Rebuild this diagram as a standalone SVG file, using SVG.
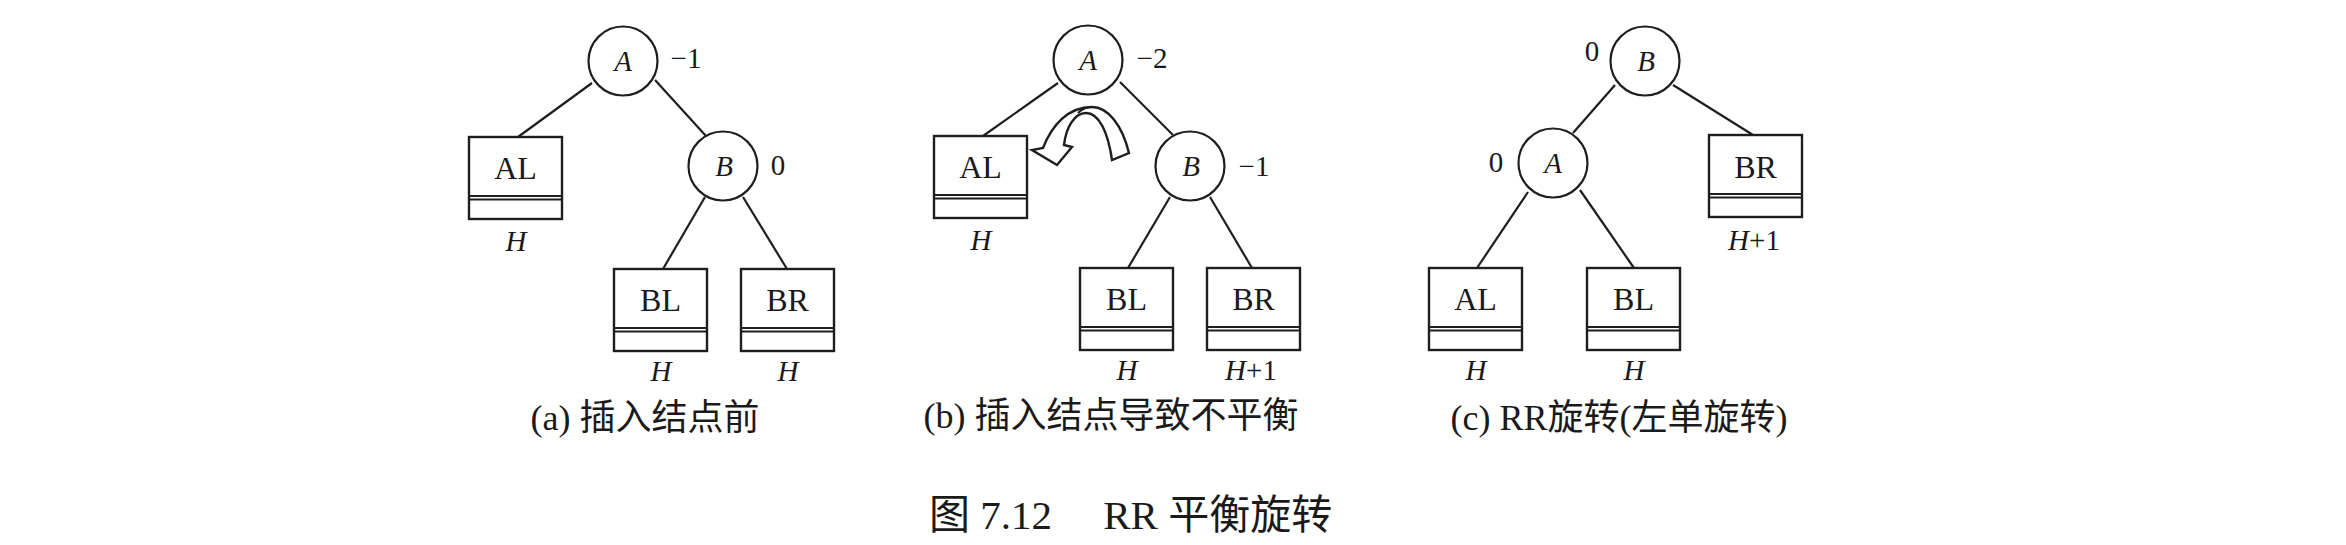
<svg xmlns="http://www.w3.org/2000/svg" width="2346" height="545" viewBox="0 0 2346 545">
<style>
  .edge { stroke: #1e1e1e; stroke-width: 2.2; fill: none; }
  .circ { stroke: #1e1e1e; stroke-width: 2.2; fill: #fff; }
  .box { stroke: #1e1e1e; stroke-width: 2.4; fill: #fff; }
  .div { stroke: #1e1e1e; stroke-width: 1.8; }
  .t { font-family: "Liberation Serif", "Noto Sans CJK SC", serif; fill: #1a1a1a; }
  .lbl { font-size: 29px; text-anchor: middle; }
  .bl { font-size: 32px; text-anchor: middle; }
  .it { font-style: italic; }
  .cap { font-size: 36px; text-anchor: middle; }
  .title { font-size: 41px; }
</style>
<defs>
  <g id="box">
    <rect class="box" x="0" y="0" width="93" height="82"/>
    <line class="div" x1="0" y1="59" x2="93" y2="59"/>
    <line class="div" x1="0" y1="62.5" x2="93" y2="62.5"/>
  </g>
</defs>
<rect width="2346" height="545" fill="#fff"/>

<g id="connectors">
  <!-- panel a -->
  <line class="edge" x1="592" y1="83" x2="518" y2="137"/>
  <line class="edge" x1="655" y1="80" x2="706" y2="136"/>
  <line class="edge" x1="705" y1="197" x2="663" y2="269"/>
  <line class="edge" x1="743" y1="197" x2="787" y2="269"/>
  <!-- panel b -->
  <line class="edge" x1="1058" y1="83" x2="983" y2="136"/>
  <line class="edge" x1="1120" y1="82" x2="1173" y2="135"/>
  <line class="edge" x1="1170" y1="197" x2="1128" y2="268"/>
  <line class="edge" x1="1210" y1="197" x2="1252" y2="268"/>
  <!-- panel c -->
  <line class="edge" x1="1615" y1="85" x2="1573" y2="133"/>
  <line class="edge" x1="1673" y1="85" x2="1753" y2="135"/>
  <line class="edge" x1="1528" y1="192" x2="1477" y2="268"/>
  <line class="edge" x1="1580" y1="190" x2="1634" y2="268"/>
</g>

<!-- Panel (a) -->
<g id="a-A">
  <circle class="circ" cx="623" cy="61" r="34.5"/>
  <text class="t lbl it" x="623" y="71">A</text>
  <text class="t lbl" x="686" y="68">−1</text>
</g>
<g id="a-B">
  <circle class="circ" cx="723" cy="166" r="34.5"/>
  <text class="t lbl it" x="724" y="176">B</text>
  <text class="t lbl" x="778" y="175">0</text>
</g>
<g id="a-AL">
  <use href="#box" x="469" y="137"/>
  <text class="t bl" x="515.5" y="179">AL</text>
  <text class="t lbl it" x="516" y="251">H</text>
</g>
<g id="a-BL">
  <use href="#box" x="614" y="269"/>
  <text class="t bl" x="660.5" y="311">BL</text>
  <text class="t lbl it" x="661" y="381">H</text>
</g>
<g id="a-BR">
  <use href="#box" x="741" y="269"/>
  <text class="t bl" x="787.5" y="311">BR</text>
  <text class="t lbl it" x="788" y="381">H</text>
</g>
<text class="t cap" x="645" y="430">(a) 插入结点前</text>

<!-- Panel (b) -->
<g id="b-A">
  <circle class="circ" cx="1088" cy="60" r="34.5"/>
  <text class="t lbl it" x="1088" y="70">A</text>
  <text class="t lbl" x="1152" y="68">−2</text>
</g>
<g id="b-B">
  <circle class="circ" cx="1190" cy="166" r="34.5"/>
  <text class="t lbl it" x="1191" y="176">B</text>
  <text class="t lbl" x="1254" y="176">−1</text>
</g>
<g id="b-AL">
  <use href="#box" x="934" y="136"/>
  <text class="t bl" x="980.5" y="178">AL</text>
  <text class="t lbl it" x="981" y="250">H</text>
</g>
<g id="b-BL">
  <use href="#box" x="1080" y="268"/>
  <text class="t bl" x="1126.5" y="310">BL</text>
  <text class="t lbl it" x="1127" y="380">H</text>
</g>
<g id="b-BR">
  <use href="#box" x="1207" y="268"/>
  <text class="t bl" x="1253.5" y="310">BR</text>
  <text class="t lbl" x="1251" y="380"><tspan class="it">H</tspan>+1</text>
</g>
<g id="b-rotate-arrow">
  <path d="M1129,153 C1122,125 1108,107 1092,107 C1068,107 1052,125 1043,148 L1032,150 L1057,165 L1072,147 L1064,145 C1066,128 1074,113 1086,113 C1099,113 1108,132 1112,160 Z" fill="#fff" stroke="#1e1e1e" stroke-width="2.4" stroke-linejoin="miter"/>
  <path d="M1078,113 C1083,108 1088,107 1092,107" fill="none" stroke="#1e1e1e" stroke-width="2"/>
</g>
<text class="t cap" x="1111" y="428">(b) 插入结点导致不平衡</text>

<!-- Panel (c) -->
<g id="c-B">
  <circle class="circ" cx="1645" cy="61" r="34.5"/>
  <text class="t lbl it" x="1646" y="71">B</text>
  <text class="t lbl" x="1592" y="61">0</text>
</g>
<g id="c-A">
  <circle class="circ" cx="1553" cy="163" r="34.5"/>
  <text class="t lbl it" x="1553" y="173">A</text>
  <text class="t lbl" x="1496" y="172">0</text>
</g>
<g id="c-BR">
  <use href="#box" x="1709" y="135"/>
  <text class="t bl" x="1755.5" y="178">BR</text>
  <text class="t lbl" x="1754" y="250"><tspan class="it">H</tspan>+1</text>
</g>
<g id="c-AL">
  <use href="#box" x="1429" y="268"/>
  <text class="t bl" x="1475.5" y="310">AL</text>
  <text class="t lbl it" x="1476" y="380">H</text>
</g>
<g id="c-BL">
  <use href="#box" x="1587" y="268"/>
  <text class="t bl" x="1633.5" y="310">BL</text>
  <text class="t lbl it" x="1634" y="380">H</text>
</g>
<text class="t cap" x="1619" y="430">(c) RR旋转(左单旋转)</text>

<text class="t title" x="929" y="529" xml:space="preserve">图 7.12     RR 平衡旋转</text>
</svg>
